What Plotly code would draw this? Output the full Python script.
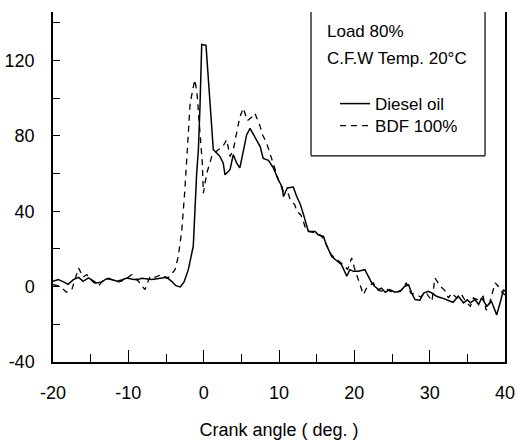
import plotly.graph_objects as go

# Heat release rate vs crank angle, load 80 %, C.F.W temperature 20 °C
diesel_angle = [
    -20.0, -19.3, -18.6, -18.0, -17.3, -16.6, -16.0, -15.3, -14.7, -14.2,
    -13.5, -12.9, -12.2, -11.5, -10.9, -10.2, -9.6, -8.9, -8.2, -7.6,
    -6.9, -6.2, -5.5, -4.9, -4.25, -3.7, -3.1, -2.6, -2.04, -1.38,
    -0.93, -0.7, -0.49, -0.26, 0.31, 0.75, 1.07, 1.28, 1.7, 2.17,
    2.6, 2.83, 3.5, 3.93, 4.39, 4.8, 5.3, 5.7, 6.15, 6.8,
    7.5, 7.9, 8.6, 9.25, 9.9, 10.4, 10.6, 11.1, 11.9, 12.35,
    12.8, 13.2, 13.45, 13.7, 13.9, 14.8, 15.2, 15.9, 16.3, 17.0,
    17.7, 18.3, 19.0, 19.4, 19.9, 20.5, 21.4, 21.9, 22.3, 22.7,
    23.2, 23.6, 24.1, 24.7, 25.4, 26.1, 26.7, 27.2, 27.6, 28.05,
    28.7, 29.2, 29.8, 30.3, 30.9, 31.6, 32.3, 32.7, 33.1, 33.8,
    34.5, 35.0, 35.4, 36.0, 36.5, 36.9, 37.6, 38.2, 38.9, 39.35,
    39.8, 40.0,
]
diesel_hrr = [
    2.8, 3.7, 2.5, 1.2, 3.7, 4.9, 2.8, 4.6, 3.2, 1.9,
    2.5, 4.2, 3.8, 2.8, 3.5, 4.6, 4.0, 3.7, 4.4, 4.2,
    3.8, 4.2, 4.5, 4.9, 2.8, 0.5, -0.2, 2.5, 9.0, 21.4,
    60.0, 72.6, 95.5, 128.5, 128.0, 100.8, 83.0, 72.6, 71.0, 69.0,
    65.5, 59.3, 62.0, 70.0, 65.5, 63.0, 72.6, 80.5, 84.0, 79.6,
    74.3, 68.0, 67.0, 63.0, 56.7, 53.0, 47.8, 52.3, 52.8, 47.8,
    44.0, 39.0, 35.5, 31.0, 29.3, 29.3, 27.5, 26.6, 22.0, 16.0,
    13.4, 11.6, 5.5, 9.0, 8.1, 8.1, 9.0, 4.6, 2.0, 0.2,
    -1.6, -0.8, -3.0, -1.6, -3.0, -2.5, 0.2, 1.0, -3.4, -6.9,
    -7.2, -3.4, -2.5, -3.4, -5.1, -6.0, -6.9, -7.8, -8.3, -5.1,
    -8.6, -7.0, -8.6, -6.9, -9.5, -6.0, -10.4, -7.8, -15.0, -8.6,
    -1.6, -2.5,
]

bdf_angle = [
    -20.0, -19.4, -18.85, -18.2, -17.5, -16.6, -16.0, -15.5, -14.8, -14.0,
    -13.3, -12.6, -11.9, -11.2, -10.5, -9.55, -8.7, -7.8, -7.1, -6.4,
    -5.6, -4.9, -4.47, -3.8, -3.37, -2.9, -2.5, -2.25, -2.04, -1.8,
    -1.38, -1.15, -0.85, -0.49, -0.18, -0.04, 0.4, 1.07, 1.9, 2.5,
    3.05, 3.5, 3.93, 4.3, 4.8, 5.26, 5.8, 6.4, 6.8, 7.5,
    7.7, 8.37, 8.7, 9.3, 9.9, 10.5, 11.2, 11.5, 12.1, 12.35,
    12.9, 13.2, 13.6, 14.2, 14.9, 15.6, 16.2, 16.9, 17.5, 18.1,
    18.7, 19.1, 19.65, 20.0, 20.5, 21.2, 21.6, 22.5, 23.0, 23.6,
    24.2, 24.8, 25.5, 26.2, 26.9, 27.5, 28.2, 28.8, 29.5, 30.3,
    30.7, 31.4, 32.0, 32.5, 32.9, 33.6, 34.2, 34.8, 35.4, 35.8,
    36.4, 37.1, 37.5, 38.0, 38.7, 39.1, 39.6, 40.0,
]
bdf_hrr = [
    1.0, 0.5, -0.7, -3.0, -1.6, 9.9, 5.0, 6.4, 3.0, 0.2,
    3.5, 4.5, 3.0, 2.5, 3.5, 6.4, 3.0, -1.6, 5.5, 5.0,
    6.4, 4.5, 5.5, 9.0, 16.0, 30.0, 51.0, 69.0, 83.0, 97.0,
    106.0, 109.7, 100.8, 83.0, 65.5, 49.6, 60.0, 69.0, 72.6, 74.0,
    78.0, 69.0, 72.6, 80.0, 90.0, 94.7, 88.0, 90.0, 92.0, 85.0,
    81.5, 76.0, 71.7, 64.0, 57.0, 51.0, 49.6, 46.0, 43.4, 40.0,
    38.0, 35.0, 30.0, 29.0, 28.5, 27.0, 23.0, 17.0, 15.0, 13.4,
    11.0, 9.0, 15.2, 10.0, 3.7, -4.2, -1.0, 2.0, -1.5, -2.5,
    -1.0, -2.5, -3.0, -2.0, 2.0, -3.5, -4.0, -5.5, -3.0, -7.8,
    4.6, 0.2, -2.0, -6.0, -3.4, -6.0, -4.0, -8.0, -10.4, -6.0,
    -7.0, -5.1, -12.5, -8.0, 2.0, 0.2, -3.0, -4.5,
]

x_ticks = [-20, -10, 0, 10, 20, 30, 40]
y_ticks = [-40, 0, 40, 80, 120]
condition_lines = ["Load 80%", "C.F.W Temp. 20°C"]
series_names = ["Diesel oil", "BDF 100%"]

FONT = "Liberation Sans, Arial, sans-serif"
X_RANGE = [-20, 40]
Y_RANGE = [-40, 145.7]

fig = go.Figure()
fig.add_trace(go.Scatter(
    x=diesel_angle, y=diesel_hrr, mode="lines", name=series_names[0],
    line=dict(color="black", width=1.5), legend="legend",
))
fig.add_trace(go.Scatter(
    x=bdf_angle, y=bdf_hrr, mode="lines", name=series_names[1],
    line=dict(color="black", width=1.3, dash="6px,5px"), legend="legend2",
))

# open-topped frame around the condition notes and legend
box = dict(x0=14.25, x1=37.35, y_bottom=69.4)
frame_style = dict(color="black", width=1.2)
box_bottom_paper = (box["y_bottom"] - Y_RANGE[0]) / (Y_RANGE[1] - Y_RANGE[0])
fig.add_shape(type="line", xref="x", yref="paper", x0=box["x0"], x1=box["x0"],
              y0=box_bottom_paper, y1=1, line=frame_style)
fig.add_shape(type="line", xref="x", yref="paper", x0=box["x1"], x1=box["x1"],
              y0=box_bottom_paper, y1=1, line=frame_style)
fig.add_shape(type="line", xref="x", yref="y", x0=box["x0"], x1=box["x1"],
              y0=box["y_bottom"], y1=box["y_bottom"], line=frame_style)

for i, txt in enumerate(condition_lines):
    fig.add_annotation(
        text=txt, xref="x", yref="paper", x=16.1, y=0.944 - i * 0.077,
        xanchor="left", yanchor="middle", showarrow=False,
        font=dict(family=FONT, size=17, color="black"),
    )

legend_common = dict(
    xanchor="left", yanchor="middle",
    bgcolor="rgba(0,0,0,0)", borderwidth=0,
    font=dict(family=FONT, size=17, color="black"),
)

fig.update_layout(
    width=517, height=445,
    margin=dict(l=53, r=12, t=12, b=83, autoexpand=False),
    paper_bgcolor="white", plot_bgcolor="white",
    font=dict(family=FONT, size=18, color="black"),
    showlegend=True,
    legend=dict(x=0.624, y=0.737, **legend_common),
    legend2=dict(x=0.624, y=0.674, **legend_common),
)

fig.update_xaxes(
    range=X_RANGE, tickvals=x_ticks, ticktext=[str(v) for v in x_ticks],
    showgrid=False, zeroline=False, automargin=False,
    showline=True, linecolor="black", linewidth=1.5, mirror=False,
    ticks="inside", ticklen=12, tickwidth=1.2, tickcolor="black",
    minor=dict(dtick=5, tick0=0, ticks="inside", ticklen=8, tickwidth=1.2, tickcolor="black"),
    tickfont=dict(family=FONT, size=18, color="black"),
    title=dict(text="Crank angle ( deg. )", font=dict(family=FONT, size=18, color="black"), standoff=21),
    ticklabelstandoff=14,
)
fig.update_yaxes(
    range=Y_RANGE, tickvals=y_ticks, ticktext=[str(v) for v in y_ticks],
    showgrid=False, zeroline=False, automargin=False,
    showline=True, linecolor="black", linewidth=1.5, mirror=True,
    ticks="inside", ticklen=7, tickwidth=1.2, tickcolor="black",
    minor=dict(dtick=20, tick0=0, ticks="inside", ticklen=7, tickwidth=1.2, tickcolor="black"),
    tickfont=dict(family=FONT, size=18, color="black"),
    ticklabelstandoff=13,
)

fig.write_html("out.html")
